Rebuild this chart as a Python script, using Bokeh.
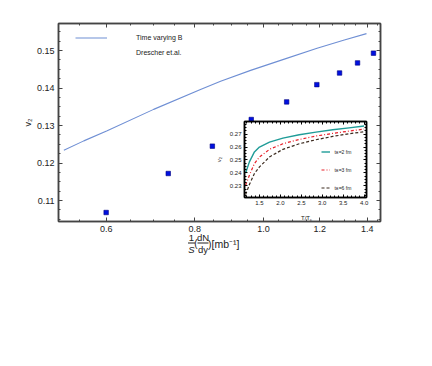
from bokeh.plotting import figure
from bokeh.models import (FixedTicker, PrintfTickFormatter, LogAxis, LinearAxis,
                          Label, Legend, LegendItem, Range1d, BoxAnnotation)
from bokeh.embed import file_html
from bokeh.resources import INLINE

# ---------------- data ----------------
exp_x = [0.600, 0.734, 0.847, 0.961, 1.078, 1.189, 1.280, 1.357, 1.429]
exp_v2 = [0.1068, 0.1172, 0.1245, 0.1316, 0.1363, 0.1409, 0.1440, 0.1467, 0.1493]

model_x = [0.523, 0.558, 0.602, 0.700, 0.815, 0.870, 0.959, 1.070, 1.190, 1.300, 1.397]
model_v2 = [0.1234, 0.1259, 0.1286, 0.1343, 0.1396, 0.1418, 0.1447, 0.1477, 0.1506, 0.1528, 0.1545]

x_ticks = [0.6, 0.8, 1.0, 1.2, 1.4]
y_ticks = [0.11, 0.12, 0.13, 0.14, 0.15]

inset_T = [1.17, 1.26, 1.38, 1.50, 1.74, 2.06, 2.45, 2.85, 3.25, 3.64, 4.00]
v2_tB2 = [0.2400, 0.2485, 0.2562, 0.2600, 0.2638, 0.2669, 0.2695, 0.2715, 0.2733, 0.2748, 0.2762]
v2_tB3 = [0.2305, 0.2382, 0.2472, 0.2523, 0.2582, 0.2625, 0.2658, 0.2685, 0.2705, 0.2723, 0.2738]
v2_tB6 = [0.2233, 0.2310, 0.2395, 0.2446, 0.2523, 0.2582, 0.2625, 0.2656, 0.2682, 0.2702, 0.2718]
inset_x_ticks = [1.5, 2.0, 2.5, 3.0, 3.5, 4.0]
inset_y_ticks = [0.23, 0.24, 0.25, 0.26, 0.27]

FONT = "Liberation Sans"
FRAME = "#444444"
TXT = "#222222"

# ---------------- main figure ----------------
p = figure(width=420, height=330, x_axis_type="log", output_backend="svg", toolbar_location=None,
           x_range=Range1d(0.514, 1.462), y_range=Range1d(0.1044, 0.1572),
           min_border_left=58, min_border_right=40, min_border_top=23, min_border_bottom=109)
p.grid.visible = False
p.outline_line_color = FRAME
p.outline_line_width = 1.5
p.background_fill_color = "white"
p.border_fill_color = "white"

def style_axis(ax, fs="9px", major=4, minor=2, color=FRAME):
    ax.axis_line_color = color
    ax.axis_line_width = 1.5
    ax.major_tick_in = major
    ax.major_tick_out = 0
    ax.minor_tick_in = minor
    ax.minor_tick_out = 0
    ax.major_tick_line_color = color
    ax.minor_tick_line_color = color
    ax.major_label_text_font = FONT
    ax.major_label_text_font_size = fs
    ax.major_label_text_color = TXT
    ax.major_label_standoff = 4

xminor = [0.55, 0.65, 0.7, 0.75, 0.85, 0.9, 0.95, 1.05, 1.1, 1.15, 1.25, 1.3, 1.35, 1.45]
yminor = [0.1025 + 0.0025 * i for i in range(23)]

p.xaxis.ticker = FixedTicker(ticks=x_ticks, minor_ticks=xminor)
p.xaxis.formatter = PrintfTickFormatter(format="%.1f")
p.yaxis.ticker = FixedTicker(ticks=y_ticks, minor_ticks=yminor)
p.yaxis.formatter = PrintfTickFormatter(format="%.2f")
style_axis(p.xaxis[0])
style_axis(p.yaxis[0])
p.xaxis.major_label_standoff = 4
p.yaxis.major_label_standoff = 4
p.yaxis.axis_label = "v₂"
p.yaxis.axis_label_text_font = FONT
p.yaxis.axis_label_text_font_style = "normal"
p.yaxis.axis_label_text_font_size = "9px"
p.yaxis.axis_label_text_color = TXT
p.yaxis.axis_label_standoff = 1

top_ax = LogAxis(ticker=FixedTicker(ticks=x_ticks, minor_ticks=xminor),
                 major_label_overrides={t: "" for t in x_ticks})
right_ax = LinearAxis(ticker=FixedTicker(ticks=y_ticks, minor_ticks=yminor),
                      major_label_overrides={t: "" for t in y_ticks})
style_axis(top_ax)
style_axis(right_ax)
p.add_layout(top_ax, "above")
p.add_layout(right_ax, "right")

line_r = p.line(model_x, model_v2, line_color="#6f8fd4", line_width=1.1)
pts_r = p.scatter(exp_x, exp_v2, marker="square", size=4.5, fill_color="#0010e0",
                  line_color="#000080", line_width=0.6)
leg_sq = p.quad(left=[], right=[], top=[], bottom=[], fill_color="#0010e0", line_color="#0000a0",
                line_width=0.5)

leg1 = Legend(items=[LegendItem(label="Time varying B", renderers=[line_r])],
              location=(17, 179), glyph_width=32, glyph_height=9, label_height=9,
              label_standoff=29, padding=0, margin=0, border_line_alpha=0,
              background_fill_alpha=0, label_text_font=FONT, label_text_font_size="7px",
              label_text_color=TXT)
leg2 = Legend(items=[LegendItem(label="Drescher et.al.", renderers=[leg_sq])],
              location=(16, 164), glyph_width=11, glyph_height=9, label_height=9,
              label_standoff=51, padding=0, margin=0, border_line_alpha=0,
              background_fill_alpha=0, label_text_font=FONT, label_text_font_size="7px",
              label_text_color=TXT)
p.add_layout(leg1)
p.add_layout(leg2)

# ---------------- inset ----------------
IL, IT = 210, 111          # page position of the inset canvas
BL, BT, BR, BB = 34, 10, 10, 20
q = figure(frame_width=122, frame_height=76, output_backend="svg", toolbar_location=None,
           x_range=Range1d(1.143, 4.057), y_range=Range1d(0.221, 0.2797),
           min_border_left=BL, min_border_right=BR, min_border_top=BT, min_border_bottom=BB)
q.grid.visible = False
q.outline_line_color = "black"
q.outline_line_width = 1.5
q.background_fill_color = "white"
q.border_fill_alpha = 0
q.styles = {"position": "absolute", "left": f"{IL}px", "top": f"{IT}px"}

ixminor = [1.2 + 0.1 * i for i in range(29)]
iyminor = [0.2225 + 0.0025 * i for i in range(24)]
q.xaxis.ticker = FixedTicker(ticks=inset_x_ticks, minor_ticks=ixminor)
q.yaxis.ticker = FixedTicker(ticks=inset_y_ticks, minor_ticks=iyminor)
q.xaxis.formatter = PrintfTickFormatter(format="%.1f")
q.yaxis.formatter = PrintfTickFormatter(format="%.2f")
for ax in (q.xaxis[0], q.yaxis[0]):
    style_axis(ax, fs="6px", major=3, minor=2, color="black")
q.xaxis.major_label_standoff = 3
q.yaxis.major_label_standoff = 3
q.yaxis.axis_label = "v₂"
q.yaxis.axis_label_text_font = FONT
q.yaxis.axis_label_text_font_style = "normal"
q.yaxis.axis_label_text_font_size = "6px"
q.yaxis.axis_label_text_color = TXT
q.yaxis.axis_label_standoff = 5
qt = LinearAxis(ticker=FixedTicker(ticks=inset_x_ticks, minor_ticks=ixminor),
                major_label_overrides={t: "" for t in inset_x_ticks})
qr = LinearAxis(ticker=FixedTicker(ticks=inset_y_ticks, minor_ticks=iyminor),
                major_label_overrides={t: "" for t in inset_y_ticks})
for ax in (qt, qr):
    style_axis(ax, fs="6px", major=3, minor=2, color="black")
    ax.major_label_standoff = 0
q.add_layout(qt, "above")
q.add_layout(qr, "right")

r2 = q.line(inset_T, v2_tB2, line_color="#1f9c98", line_width=1.4)
r3 = q.line(inset_T, v2_tB3, line_color="#e8202a", line_width=1.2, line_dash="3 2 1 2")
r6 = q.line(inset_T, v2_tB6, line_color="#3b2a1e", line_width=1.2, line_dash="3 2")

ileg = Legend(items=[LegendItem(label="", renderers=[r2]),
                     LegendItem(label="", renderers=[r3]),
                     LegendItem(label="", renderers=[r6])],
              location=(77, 5), glyph_width=9, glyph_height=9, label_height=9, label_width=0,
              label_standoff=0, spacing=9, padding=0, margin=0, border_line_alpha=0,
              background_fill_alpha=0, label_text_font_size="5px")
q.add_layout(ileg)

IFL, IFB = 248, 199     # intended page position of inset frame's left / bottom
def ilab(text, px, py, size="5px", align="left"):
    q.add_layout(Label(x=px - IFL, y=IFB - py, x_units="screen", y_units="screen", text=text,
                       text_font=FONT, text_font_size=size, text_align=align,
                       text_baseline="middle", text_color=TXT))

for yy, val in ((153.5, "=2 fm"), (171.5, "=3 fm"), (189.3, "=6 fm")):
    ilab("t", 338, yy)
    ilab("B", 339.6, yy + 1.3, size="3.5px")
    ilab(val, 342.2, yy)

# ---------------- axis-title overlay (text only) ----------------
OL, OT, OW, OH = 180, 206, 150, 58
o = figure(width=OW, height=OH, output_backend="svg", toolbar_location=None,
           x_range=Range1d(0, 1), y_range=Range1d(0, 1), min_border=0,
           x_axis_location=None, y_axis_location=None)
o.grid.visible = False
o.outline_line_color = None
o.background_fill_alpha = 0
o.border_fill_alpha = 0
o.styles = {"position": "absolute", "left": f"{OL}px", "top": f"{OT}px"}

def olab(text, px, py, size="9.5px", align="center", style="normal"):
    o.add_layout(Label(x=px - OL, y=OT + OH - py, x_units="screen", y_units="screen", text=text,
                       text_font=FONT, text_font_size=size, text_align=align,
                       text_baseline="middle", text_font_style=style, text_color=TXT))

def obar(px0, px1, py):
    yy = OT + OH - py
    o.add_layout(BoxAnnotation(left=px0 - OL, right=px1 - OL, bottom=yy - 0.45, top=yy + 0.45,
                               left_units="screen", right_units="screen",
                               bottom_units="screen", top_units="screen",
                               fill_color=TXT, fill_alpha=1, line_alpha=0))

olab("1", 191, 237)
obar(187.5, 194.5, 242.5)
olab("S", 191, 248.5, style="italic")
olab("(", 195.3, 243, size="10px")
olab("dN", 202.5, 237)
obar(197, 208, 242.5)
olab("dy", 202.5, 249)
olab(")[mb⁻¹]", 207.5, 243.3, size="10.5px", align="left")

olab("T/T", 305, 217, size="6px")
olab("c", 309.6, 218.5, size="4px", align="left")

open("out.html", "w").write(file_html([p, q, o], INLINE))
